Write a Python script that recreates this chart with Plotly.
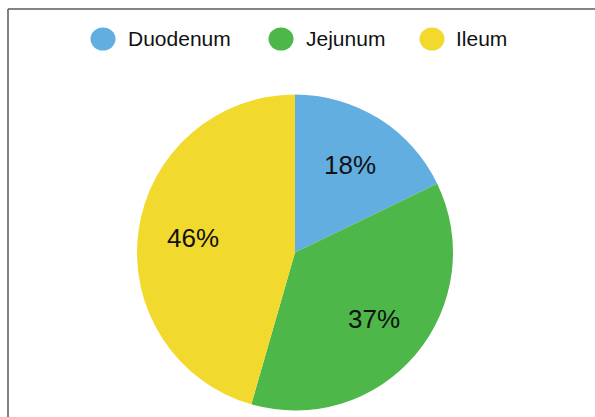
import math
import plotly.graph_objects as go

categories = ["Duodenum", "Jejunum", "Ileum"]
values = [18, 37, 46]
colors = ["#62AEE1", "#4DB74A", "#F2D92E"]

W, H = 595, 417
FONT = "Liberation Sans, Arial, sans-serif"

# pie geometry (pixels)
pie_x0, pie_x1 = 137, 453
pie_top, pie_bottom = 94, 411
cx_pie = (pie_x0 + pie_x1) / 2
cy_pie = (pie_top + pie_bottom) / 2
R = min(pie_x1 - pie_x0, pie_bottom - pie_top) / 2
label_frac = 0.65

fig = go.Figure()
fig.add_trace(go.Pie(
    labels=categories,
    values=values,
    sort=False,
    direction="clockwise",
    rotation=0,
    marker=dict(colors=colors, line=dict(width=0)),
    textinfo="none",
    domain=dict(x=[pie_x0 / W, pie_x1 / W], y=[1 - pie_bottom / H, 1 - pie_top / H]),
    showlegend=False,
    hoverinfo="label+percent",
))

shapes = []
annotations = []
# frame (left and top edges)
shapes.append(dict(type="line", xref="paper", yref="paper",
                   x0=8 / W, x1=1.0, y0=1 - 9 / H, y1=1 - 9 / H,
                   line=dict(color="#5a5a5a", width=1.5)))
shapes.append(dict(type="line", xref="paper", yref="paper",
                   x0=8 / W, x1=8 / W, y0=0, y1=1 - 9 / H,
                   line=dict(color="#5a5a5a", width=1.5)))

# slice labels placed along each slice's bisector, derived from the values
total = sum(values)
cum = 0
for v in values:
    mid = (cum + v / 2) / total * 2 * math.pi
    cum += v
    px = cx_pie + label_frac * R * math.sin(mid)
    py = cy_pie - label_frac * R * math.cos(mid)
    annotations.append(dict(text=f"{v}%", xref="paper", yref="paper",
                            x=px / W, y=1 - py / H, xanchor="center", yanchor="middle",
                            showarrow=False,
                            font=dict(size=26, color="#111111", family=FONT)))

# custom legend with circular markers
legend_circle_x = [103, 281, 432]
legend_y = 39
rx, ry = 12.5, 11.5
for cat, col, cx in zip(categories, colors, legend_circle_x):
    shapes.append(dict(type="circle", xref="paper", yref="paper",
                       x0=(cx - rx) / W, x1=(cx + rx) / W,
                       y0=1 - (legend_y + ry) / H, y1=1 - (legend_y - ry) / H,
                       fillcolor=col, line=dict(width=0)))
    annotations.append(dict(text=cat, xref="paper", yref="paper",
                            x=(cx + rx + 10) / W, y=1 - legend_y / H,
                            xanchor="left", yanchor="middle", showarrow=False,
                            font=dict(size=21, color="#111111", family=FONT)))

fig.update_layout(
    width=W, height=H,
    margin=dict(l=0, r=0, t=0, b=0),
    paper_bgcolor="white",
    plot_bgcolor="white",
    shapes=shapes,
    annotations=annotations,
    showlegend=False,
)

fig.write_html("out.html")
